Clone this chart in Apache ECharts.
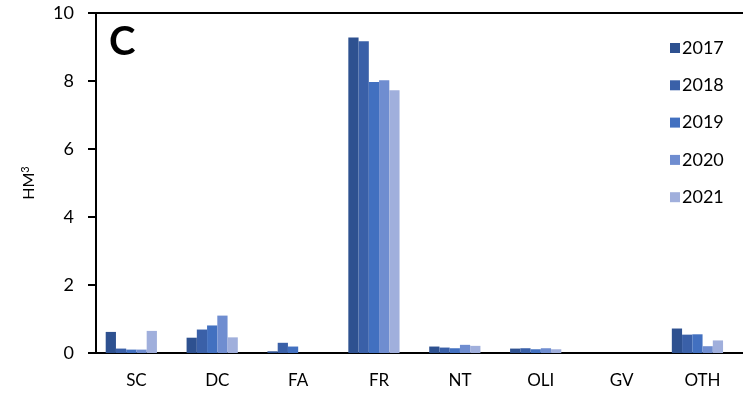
<!DOCTYPE html>
<html>
<head>
<meta charset="utf-8">
<script src="https://cdn.jsdelivr.net/npm/echarts@6/dist/echarts.min.js"></script>
<style>
html,body{margin:0;padding:0;background:#fff;}
#chart{width:743px;height:397px;}
</style>
</head>
<body>
<div id="chart"></div>
<script>
const categories = ['SC', 'DC', 'FA', 'FR', 'NT', 'OLI', 'GV', 'OTH'];
const years = ['2017', '2018', '2019', '2020', '2021'];
const v2017 = [0.62, 0.45, 0.05, 9.28, 0.19, 0.13, 0, 0.72];
const v2018 = [0.13, 0.69, 0.30, 9.17, 0.16, 0.14, 0, 0.54];
const v2019 = [0.10, 0.81, 0.19, 7.97, 0.14, 0.11, 0, 0.55];
const v2020 = [0.10, 1.10, 0, 8.02, 0.24, 0.14, 0, 0.20];
const v2021 = [0.65, 0.46, 0, 7.73, 0.21, 0.11, 0, 0.37];
const emptySlot = [null, null, null, null, null, null, null, null];
const yTicks = [0, 2, 4, 6, 8, 10];

const seriesValues = [v2017, v2018, v2019, v2020, v2021];
const colors = ['#2E5190', '#3A60A8', '#4270C0', '#6F8DD0', '#A0AFDC'];
const font = 'Lato, "Open Sans", sans-serif';

const chart = echarts.init(document.getElementById('chart'), null, {renderer: 'canvas'});
const series = years.map((y, i) => ({
  name: y,
  type: 'bar',
  data: seriesValues[i],
  barGap: '0%',
  barCategoryGap: '24%',
  itemStyle: {color: colors[i]},
  emphasis: {disabled: true}
}));
series.push({name: 'blank', type: 'bar', data: emptySlot, barGap: '0%', barCategoryGap: '24%'});

chart.setOption({
  animation: false,
  color: colors,
  grid: {left: 96, right: -12, top: 13, bottom: 44, containLabel: false},
  legend: {
    data: years,
    orient: 'vertical',
    left: 665,
    top: 34,
    itemWidth: 10,
    itemHeight: 10,
    itemGap: 19.3,
    icon: 'rect',
    textStyle: {fontFamily: font, fontSize: 18, color: '#000', padding: [0, 0, 0, -3]}
  },
  xAxis: [{
    type: 'category',
    data: categories,
    axisLine: {lineStyle: {color: '#000', width: 2}},
    axisTick: {show: false},
    axisLabel: {fontFamily: font, fontSize: 17, color: '#000', margin: 19}
  }, {
    type: 'category',
    position: 'top',
    data: categories,
    axisLine: {lineStyle: {color: '#000', width: 2}},
    axisTick: {show: false},
    axisLabel: {show: false}
  }],
  yAxis: {
    type: 'value',
    min: yTicks[0],
    max: yTicks[yTicks.length - 1],
    interval: 2,
    name: 'HM{sup|3}',
    nameLocation: 'middle',
    nameGap: 58,
    nameRotate: 90,
    nameTextStyle: {
      fontFamily: font, fontSize: 16, color: '#000',
      rich: {sup: {fontFamily: font, fontSize: 11, color: '#000', verticalAlign: 'top', padding: [0, 0, 7, 0]}}
    },
    axisLine: {show: true, lineStyle: {color: '#000', width: 2}},
    axisTick: {show: true, inside: false, length: 8, lineStyle: {color: '#000', width: 2}},
    axisLabel: {fontFamily: font, fontSize: 18, color: '#000', margin: 22},
    splitLine: {show: false}
  },
  graphic: [{
    type: 'text',
    left: 109,
    top: 22,
    style: {text: 'C', font: 'bold 40px ' + font, fill: '#000'}
  }],
  series: series
});
</script>
</body>
</html>
